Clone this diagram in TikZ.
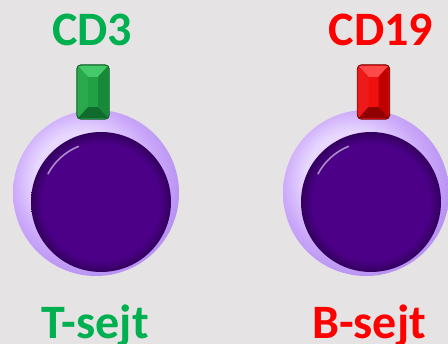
\documentclass[tikz,border=0pt]{standalone}
\usepackage{fontspec}
\setmainfont{Carlito}
\begin{document}
\definecolor{bg}{HTML}{E5E3E3}
\definecolor{tgreen}{HTML}{00B050}
\definecolor{bred}{HTML}{FF0000}
\definecolor{lavlight}{HTML}{E8D8FF}
\definecolor{lavmid}{HTML}{CBA8FA}
\definecolor{lavedge}{HTML}{B892F2}
\definecolor{nucleus}{HTML}{4B0087}
\definecolor{nucrim}{HTML}{33005E}
% receptor facet colours: top, left, face, right, bottom
\definecolor{gtop}{HTML}{45C96A}\definecolor{gleft}{HTML}{2AAA4D}
\definecolor{gface}{HTML}{23A045}\definecolor{gright}{HTML}{178A3A}
\definecolor{gbot}{HTML}{0F6B2E}\definecolor{gline}{HTML}{0E5E26}
\definecolor{rtop}{HTML}{FF4A4A}\definecolor{rleft}{HTML}{EE1A1A}
\definecolor{rface}{HTML}{F01010}\definecolor{rright}{HTML}{C00000}
\definecolor{rbot}{HTML}{900000}\definecolor{rline}{HTML}{7A0000}
\pgfdeclareradialshading{ringshade}{\pgfpoint{-6bp}{6bp}}{color(0bp)=(lavlight); color(14bp)=(lavlight); color(22bp)=(lavmid); color(28bp)=(lavedge); color(50bp)=(lavedge)}
\pgfdeclareradialshading{nucshade}{\pgfpoint{0bp}{0bp}}{color(0bp)=(nucleus); color(21bp)=(nucleus); color(25bp)=(nucrim); color(50bp)=(nucrim)}
\newcommand\receptor[3]{% name, position, colour prefix
  \node[receptorbody, fill=#3face, draw=#3line] (#1) at (#2) {};
  \fill[#3top] ([xshift=1pt,yshift=-1pt]#1.north west) -- ([xshift=-1pt,yshift=-1pt]#1.north east)
    -- ([xshift=5pt,yshift=-12pt]#1.north) -- ([xshift=-5pt,yshift=-12pt]#1.north) -- cycle;
  \fill[#3left] ([xshift=1pt,yshift=-1pt]#1.north west) -- ([xshift=-5pt,yshift=-12pt]#1.north)
    -- ([xshift=-5pt,yshift=12pt]#1.south) -- ([xshift=1pt,yshift=1pt]#1.south west) -- cycle;
  \fill[#3right] ([xshift=-1pt,yshift=-1pt]#1.north east) -- ([xshift=5pt,yshift=-12pt]#1.north)
    -- ([xshift=5pt,yshift=12pt]#1.south) -- ([xshift=-1pt,yshift=1pt]#1.south east) -- cycle;
  \fill[#3bot] ([xshift=1pt,yshift=1pt]#1.south west) -- ([xshift=-5pt,yshift=12pt]#1.south)
    -- ([xshift=5pt,yshift=12pt]#1.south) -- ([xshift=-1pt,yshift=1pt]#1.south east) -- cycle;
  \draw[#3line, line width=0.8pt, rounded corners=4pt] (#1.north west) rectangle (#1.south east);
}
\begin{tikzpicture}[x=1pt, y=-1pt,
  label/.style={font=\bfseries\fontsize{48}{48}\selectfont, anchor=base, inner sep=0pt},
  membrane/.style={circle, minimum size=166pt, inner sep=0pt, shading=ringshade},
  nucleusnode/.style={circle, minimum size=140pt, inner sep=0pt, shading=nucshade},
  receptorbody/.style={rectangle, rounded corners=4pt, minimum width=32pt, minimum height=54pt, inner sep=0pt},
  shine/.style={white, opacity=0.55, line width=1.6pt, line cap=round}]
\fill[bg] (0,0) rectangle (448,344);
\useasboundingbox (0,0) rectangle (448,344);

% T cell
\node[membrane] (tmem) at (96,193) {};
\node[nucleusnode] (tnuc) at (101,202) {};
\draw[shine] (tnuc.center) ++(208:60) arc (208:248:60);
\receptor{tcd}{93,92}{g}
\node[label, text=tgreen] (cdthree) at (92,46) {CD3};
\node[label, text=tgreen] (tname) at (95,339) {T-sejt};

% B cell
\node[membrane] (bmem) at (366,193) {};
\node[nucleusnode] (bnuc) at (371,202) {};
\draw[shine] (bnuc.center) ++(208:60) arc (208:248:60);
\receptor{bcd}{373.5,92}{r}
\node[label, text=bred] (cdnineteen) at (381,46) {CD19};
\node[label, text=bred] (bname) at (369,339) {B-sejt};
\end{tikzpicture}
\end{document}
